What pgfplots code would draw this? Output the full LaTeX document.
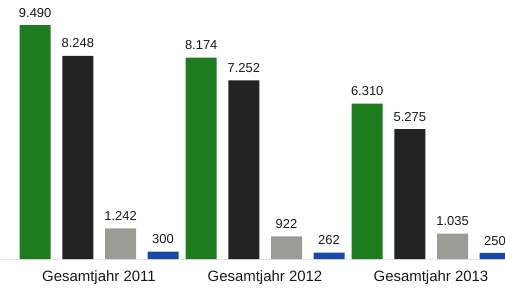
\documentclass[border=0pt]{standalone}
\usepackage{pgfplots}
\pgfplotsset{compat=1.18}
\usepackage{fontspec}
\setmainfont{Liberation Sans}
\definecolor{cgreen}{RGB}{28,124,30}
\definecolor{cblack}{RGB}{34,34,34}
\definecolor{cgray}{RGB}{156,156,150}
\definecolor{cblue}{RGB}{22,74,168}
\begin{document}
\begin{tikzpicture}
\begin{axis}[
  scale only axis,
  width=505bp, height=288bp,
  xmin=-0.596, xmax=2.446,
  ymin=-1176, ymax=10514,
  ybar, bar width=0.187,
  axis line style={draw=none},
  tick style={draw=none},
  ytick=\empty,
  extra y ticks={0},
  extra y tick labels={},
  extra y tick style={grid=major, grid style={gray!20, line width=0.6pt}},
  xtick={0,1,2},
  xticklabels={Gesamtjahr 2011, Gesamtjahr 2012, Gesamtjahr 2013},
  xticklabel style={font=\fontsize{15}{16}\selectfont, text=black!90, anchor=base, yshift=11bp},
  nodes near coords,
  every node near coord/.append style={font=\fontsize{13}{14}\selectfont, text=black!90, inner sep=2.5bp, yshift=5bp},
  /pgf/number format/.cd, fixed, precision=0, 1000 sep={.}, assume math mode=true,
]
\addplot[fill=cgreen, draw=none, bar shift=-0.384] coordinates {(0,9490) (1,8174) (2,6310)};
\addplot[fill=cblack, draw=none, bar shift=-0.127] coordinates {(0,8248) (1,7252) (2,5275)};
\addplot[fill=cgray, draw=none, bar shift=0.130] coordinates {(0,1242) (1,922) (2,1035)};
\addplot[fill=cblue, draw=none, bar shift=0.386] coordinates {(0,300) (1,262) (2,250)};
\coordinate (sw) at (rel axis cs:0,0);
\coordinate (ne) at (rel axis cs:1,1);
\end{axis}
\pgfresetboundingbox
\path[use as bounding box] (sw) rectangle (ne);
\end{tikzpicture}
\end{document}
